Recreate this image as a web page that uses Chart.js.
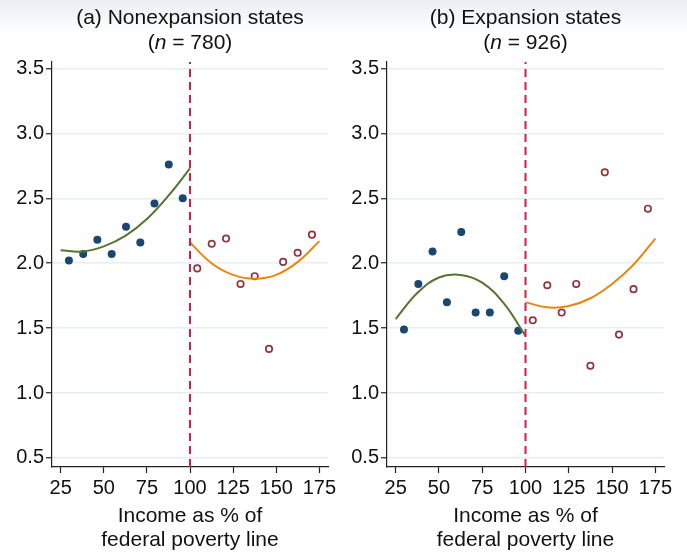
<!DOCTYPE html>
<html>
<head>
<meta charset="utf-8">
<title>Income and poverty line</title>
<script src="https://cdn.jsdelivr.net/npm/chart.js@4.4.1/dist/chart.umd.min.js"></script>
<style>
    html, body {
        margin: 0;
        padding: 0;
        width: 687px;
        height: 552px;
        overflow: hidden;
        background: linear-gradient(to bottom, #eaeef3 0px, #f7f9fb 22px, #ffffff 32px);
    }
    #wrap {
        position: relative;
        width: 687px;
        height: 552px;
    }
    #wrap canvas {
        position: absolute;
        top: 0;
    }
    #leftChart { left: 0; }
    #rightChart { left: 335px; }
</style>
</head>
<body>
<div id="wrap">
    <canvas id="leftChart" width="343" height="552"></canvas>
    <canvas id="rightChart" width="352" height="552"></canvas>
</div>
<script>
// axis ticks
const xTicks = [25, 50, 75, 100, 125, 150, 175];
const yTicks = [0.5, 1.0, 1.5, 2.0, 2.5, 3.0, 3.5];
const cutoff = 100;

// bin midpoints (income as % of FPL)
const binBelow = [29.8, 38.1, 46.3, 54.6, 62.9, 71.2, 79.4, 87.7, 95.8];
const binAbove = [104.2, 112.6, 120.9, 129.3, 137.5, 145.8, 154.0, 162.4, 170.7];

// (a) nonexpansion states
const nonexpBelow = [2.02, 2.07, 2.18, 2.07, 2.28, 2.16, 2.46, 2.76, 2.50];
const nonexpAbove = [1.96, 2.15, 2.19, 1.84, 1.90, 1.34, 2.01, 2.08, 2.22];

// (b) expansion states
const expBelow = [1.49, 1.84, 2.09, 1.70, 2.24, 1.62, 1.62, 1.90, 1.48];
const expAbove = [1.56, 1.83, 1.62, 1.84, 1.21, 2.70, 1.45, 1.80, 2.42];

// fitted curves
const fitXBelow = [25, 37.5, 50, 62.5, 75, 87.5, 100];
const fitXAbove = [100, 112.5, 125, 137.5, 150, 162.5, 175];
const nonexpFitBelow = [2.10, 2.09, 2.13, 2.21, 2.34, 2.52, 2.73];
const nonexpFitAbove = [2.16, 2.00, 1.91, 1.88, 1.91, 2.01, 2.17];
const expFitBelow = [1.57, 1.77, 1.89, 1.91, 1.85, 1.69, 1.44];
const expFitAbove = [1.70, 1.66, 1.67, 1.73, 1.84, 1.99, 2.19];

const X_MIN = 20, X_MAX = 180;
const Y_MIN = 0.43, Y_MAX = 3.55;

const FONT = '"Liberation Sans", Arial, Helvetica, sans-serif';
const TEXT = '#111111';

document.addEventListener('DOMContentLoaded', () => {

    const zip = (xs, ys) => xs.map((x, i) => ({ x: x, y: ys[i] }));

    // two-line panel heading, second line has an italic n
    const panelTitle = {
        id: 'panelTitle',
        afterDraw(chart, args, opts) {
            const { ctx, chartArea } = chart;
            const cx = (chartArea.left + chartArea.right) / 2;
            const normal = '21px ' + FONT;
            const italic = 'italic 21px ' + FONT;
            ctx.save();
            ctx.fillStyle = TEXT;
            ctx.textBaseline = 'middle';
            ctx.textAlign = 'center';
            ctx.font = normal;
            ctx.fillText(opts.heading, cx, 18);

            const parts = [['(', normal], ['n', italic], [' = ' + opts.n + ')', normal]];
            let total = 0;
            parts.forEach(p => { ctx.font = p[1]; total += ctx.measureText(p[0]).width; });
            let x = cx - total / 2;
            ctx.textAlign = 'left';
            parts.forEach(p => {
                ctx.font = p[1];
                ctx.fillText(p[0], x, 43);
                x += ctx.measureText(p[0]).width;
            });
            ctx.restore();
        }
    };

    function buildChart(canvasId, heading, n, below, above, fitBelow, fitAbove, padRight) {
        const ctx = document.getElementById(canvasId).getContext('2d');
        return new Chart(ctx, {
            type: 'scatter',
            data: {
                datasets: [
                    {
                        data: [{ x: cutoff, y: Y_MIN }, { x: cutoff, y: Y_MAX }],
                        showLine: true,
                        borderColor: '#cf1f4e',
                        borderWidth: 2,
                        borderDash: [8, 5],
                        pointRadius: 0
                    },
                    {
                        data: zip(fitXBelow, fitBelow),
                        showLine: true,
                        borderColor: '#55752f',
                        borderWidth: 2,
                        tension: 0.4,
                        pointRadius: 0
                    },
                    {
                        data: zip(fitXAbove, fitAbove),
                        showLine: true,
                        borderColor: '#e8870e',
                        borderWidth: 2,
                        tension: 0.4,
                        pointRadius: 0
                    },
                    {
                        data: zip(binBelow, below),
                        pointRadius: 4,
                        pointBackgroundColor: '#1a476f',
                        pointBorderColor: '#1a476f',
                        pointBorderWidth: 0
                    },
                    {
                        data: zip(binAbove, above),
                        pointRadius: 3.2,
                        pointBackgroundColor: '#ffffff',
                        pointBorderColor: '#90353b',
                        pointBorderWidth: 1.7
                    }
                ]
            },
            options: {
                responsive: false,
                animation: false,
                events: [],
                layout: { padding: { top: 62, right: padRight, bottom: 0, left: 0 } },
                plugins: {
                    legend: { display: false },
                    tooltip: { enabled: false },
                    panelTitle: { heading: heading, n: n }
                },
                scales: {
                    x: {
                        type: 'linear',
                        min: X_MIN,
                        max: X_MAX,
                        afterBuildTicks: s => { s.ticks = xTicks.map(v => ({ value: v })); },
                        afterFit: s => { s.height = 85; },
                        border: { display: true, color: '#222', width: 1.2 },
                        grid: { drawOnChartArea: false, tickLength: 6, tickColor: '#222', tickWidth: 1.2 },
                        ticks: {
                            color: TEXT,
                            padding: 3,
                            maxRotation: 0,
                            autoSkip: false,
                            font: { family: FONT, size: 20 }
                        },
                        title: {
                            display: true,
                            text: ['Income as % of', 'federal poverty line'],
                            color: TEXT,
                            padding: { top: 0, bottom: 0 },
                            font: { family: FONT, size: 21, lineHeight: 1.15 }
                        }
                    },
                    y: {
                        type: 'linear',
                        min: Y_MIN,
                        max: Y_MAX,
                        afterBuildTicks: s => { s.ticks = yTicks.map(v => ({ value: v })); },
                        afterFit: s => { s.width = 52; },
                        border: { display: true, color: '#222', width: 1.2 },
                        grid: { color: '#e6eef2', lineWidth: 1.5, tickLength: 6, tickColor: '#222', tickWidth: 1.2 },
                        ticks: {
                            color: TEXT,
                            padding: 2,
                            callback: v => Number(v).toFixed(1),
                            font: { family: FONT, size: 20 }
                        }
                    }
                }
            },
            plugins: [panelTitle]
        });
    }

    buildChart('leftChart', '(a) Nonexpansion states', 780,
        nonexpBelow, nonexpAbove, nonexpFitBelow, nonexpFitAbove, 15);
    buildChart('rightChart', '(b) Expansion states', 926,
        expBelow, expAbove, expFitBelow, expFitAbove, 23);
});
</script>
</body>
</html>
